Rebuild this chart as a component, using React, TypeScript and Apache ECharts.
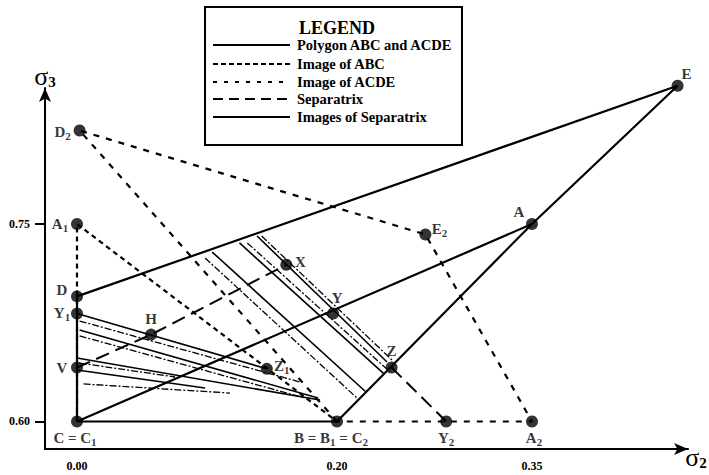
import React, { useEffect, useRef } from "react";
import * as echarts from "echarts";

// ---- data ----
const xTickValues = [0, 0.2, 0.35];
const yTickValues = [0.6, 0.75];

const pointNames = ["C", "B", "A", "E", "D", "Y", "Z", "A1", "D2", "E2", "A2", "Y1", "Y2", "Z1", "V", "H", "X"];
const pointXs = [0, 0.2, 0.35, 0.462, 0, 0.197, 0.242, 0, 0.002, 0.268, 0.35, 0, 0.284, 0.146, 0, 0.057, 0.161];
const pointYs = [0.6, 0.6, 0.75, 0.855, 0.695, 0.682, 0.641, 0.75, 0.821, 0.742, 0.6, 0.682, 0.6, 0.64, 0.641, 0.666, 0.719];
const pointTexts = ["C = C1", "B = B1 = C2", "A", "E", "D", "Y", "Z", "A1", "D2", "E2", "A2", "Y1", "Y2", "Z1", "V", "H", "X"];

const polygonPaths = [["C", "B", "A", "C"], ["C", "D", "E", "A"]];
const imageABCPaths = [["C", "A1", "B"]];
const imageACDEPaths = [["B", "D2", "E2", "A2", "B"]];
const separatrixPaths = [["V", "H", "X"], ["Z", "Y2"]];

// images of separatrix: [x1, y1, x2, y2] and whether solid
const imgSepX1 = [0.104, 0.0985, 0.125, 0.131, 0.1385, 0.142, 0, 0.002, 0.002, 0.002, 0, 0.002, 0, 0.005];
const imgSepY1 = [0.7287, 0.7242, 0.7356, 0.7356, 0.7409, 0.7409, 0.682, 0.6763, 0.6695, 0.665, 0.6482, 0.6444, 0.6391, 0.6285];
const imgSepX2 = [0.2223, 0.2162, 0.2362, 0.2392, 0.2385, 0.2423, 0.146, 0.1715, 0.1854, 0.1754, 0.1869, 0.0754, 0.0985, 0.1177];
const imgSepY2 = [0.6224, 0.6171, 0.6361, 0.6391, 0.6452, 0.6467, 0.64, 0.63, 0.6178, 0.6178, 0.6163, 0.6338, 0.6254, 0.6216];
const imgSepSolid = [true, false, true, false, true, false, true, false, true, false, true, false, true, false];

const legendEntries = ["Polygon ABC and ACDE", "Image of ABC", "Image of ACDE", "Separatrix", "Images of Separatrix"];

// ---- label placement (pixels, relative to point centre) ----
const labelOffsets: Record<string, [number, number]> = {
  C: [-2, 17], B: [-6, 17], Y2: [0, 17], A2: [2, 17],
  A: [-13, -12], E: [9, -12], E2: [14, -6],
  D2: [-17, 1], A1: [-17, 0], D: [-15, -6], Y1: [-15, -1], V: [-15, 0],
  H: [0, -16], X: [14, -3], Y: [4, -16], Z: [0, -17], Z1: [15, -3],
};

const FONT = "'Liberation Serif', 'DejaVu Serif', serif";

function richText(t: string): string {
  let out = "";
  let buf = "";
  for (const ch of t) {
    if (/[0-9]/.test(ch)) {
      if (buf) out += `{m|${buf}}`;
      buf = "";
      out += `{s|${ch}}`;
    } else buf += ch;
  }
  if (buf) out += `{m|${buf}}`;
  return out;
}

function pt(name: string): [number, number] {
  const i = pointNames.indexOf(name);
  return [pointXs[i], pointYs[i]];
}

export default function App() {
  const ref = useRef<HTMLDivElement>(null);
  useEffect(() => {
    if (!ref.current) return;
    const chart = echarts.init(ref.current, undefined, { renderer: "svg" });

    const series: any[] = [];
    const addPath = (names: string[], lineStyle: any) => {
      series.push({
        type: "line",
        data: names.map(pt),
        symbol: "none",
        clip: false,
        silent: true,
        lineStyle: { color: "#000", ...lineStyle },
      });
    };
    polygonPaths.forEach((p) => addPath(p, { width: 2.2, type: "solid" }));
    imageABCPaths.forEach((p) => addPath(p, { width: 2.2, type: [5, 4] }));
    imageACDEPaths.forEach((p) => addPath(p, { width: 2.2, type: [6, 7] }));
    separatrixPaths.forEach((p) => addPath(p, { width: 2, type: [14, 7] }));

    imgSepX1.forEach((_, i) => {
      series.push({
        type: "line",
        data: [
          [imgSepX1[i], imgSepY1[i]],
          [imgSepX2[i], imgSepY2[i]],
        ],
        symbol: "none",
        clip: false,
        silent: true,
        lineStyle: {
          color: "#000",
          width: imgSepSolid[i] ? 1.6 : 1.3,
          type: imgSepSolid[i] ? "solid" : [7, 2, 2, 2],
        },
      });
    });

    series.push({
      type: "scatter",
      symbolSize: 12,
      clip: false,
      itemStyle: { color: "#000" },
      data: pointNames.map((n, i) => ({
        value: [pointXs[i], pointYs[i]],
        label: {
          show: true,
          position: "inside",
          offset: labelOffsets[n] || [0, -15],
          formatter: richText(pointTexts[i]),
          rich: {
            m: { fontFamily: FONT, fontSize: 15, fontWeight: "bold", color: "#000" },
            s: { fontFamily: FONT, fontSize: 11, fontWeight: "bold", color: "#000", padding: [8, 0, 0, 0] },
          },
        },
      })),
    });

    const legendX = 205, legendY = 7, legendW = 257, legendH = 138;
    const rowYs = [45, 64, 82, 99, 117];
    const dashes: any[] = ["solid", [5, 3], [4, 7], [10, 6], "solid"];
    const graphics: any[] = [
      {
        type: "rect",
        shape: { x: legendX, y: legendY, width: legendW, height: legendH },
        style: { fill: "#fff", stroke: "#000", lineWidth: 2 },
        z: 10,
      },
      {
        type: "text",
        x: 337, y: 28,
        style: { text: "LEGEND", fontFamily: FONT, fontSize: 18, fontWeight: "bold", fill: "#000", align: "center", verticalAlign: "middle" },
        z: 11,
      },
    ];
    legendEntries.forEach((t, i) => {
      graphics.push({
        type: "line",
        shape: { x1: 213, y1: rowYs[i], x2: 290, y2: rowYs[i] },
        style: { stroke: "#000", lineWidth: 2, lineDash: dashes[i] === "solid" ? null : dashes[i] },
        z: 11,
      });
      graphics.push({
        type: "text",
        x: 297, y: rowYs[i],
        style: { text: t, fontFamily: FONT, fontSize: 14.5, fontWeight: "bold", fill: "#000", align: "left", verticalAlign: "middle" },
        z: 11,
      });
    });
    const sigma = (x: number, y: number, sub: string) => ({
      type: "text", x, y,
      style: {
        text: `{g|σ}{s|${sub}}`, align: "center", verticalAlign: "middle",
        rich: {
          g: { fontFamily: FONT, fontSize: 26, fill: "#000" },
          s: { fontFamily: FONT, fontSize: 15, fontWeight: "bold", fill: "#000", padding: [12, 0, 0, 0] },
        },
      },
    });
    graphics.push(sigma(45, 76, "3"));
    graphics.push(sigma(696, 457, "2"));

    chart.setOption({
      animation: false,
      backgroundColor: "#fff",
      grid: { left: 45, right: 21, top: 88, bottom: 26 },
      xAxis: {
        type: "value",
        min: -0.02462,
        max: 0.47,
        splitLine: { show: false },
        axisLine: { lineStyle: { color: "#000", width: 2 }, symbol: ["none", "arrow"], symbolSize: [9, 14] },
        axisTick: { show: false },
        axisLabel: {
          customValues: xTickValues,
          formatter: (v: number) => v.toFixed(2),
          fontFamily: FONT, fontSize: 12, fontWeight: "bold", color: "#000", margin: 11,
        },
      },
      yAxis: {
        type: "value",
        min: 0.57911,
        max: 0.85328,
        splitLine: { show: false },
        axisLine: { onZero: false, lineStyle: { color: "#000", width: 2 }, symbol: ["none", "arrow"], symbolSize: [9, 14] },
        axisTick: { customValues: yTickValues, length: 10, lineStyle: { color: "#000", width: 2 } },
        axisLabel: {
          customValues: yTickValues,
          formatter: (v: number) => v.toFixed(2),
          fontFamily: FONT, fontSize: 12, fontWeight: "bold", color: "#000", margin: 15,
        },
      },
      graphic: graphics,
      series,
    });
    return () => chart.dispose();
  }, []);
  return <div ref={ref} style={{ position: "fixed", left: 0, top: 0, width: 709, height: 475 }} />;
}
